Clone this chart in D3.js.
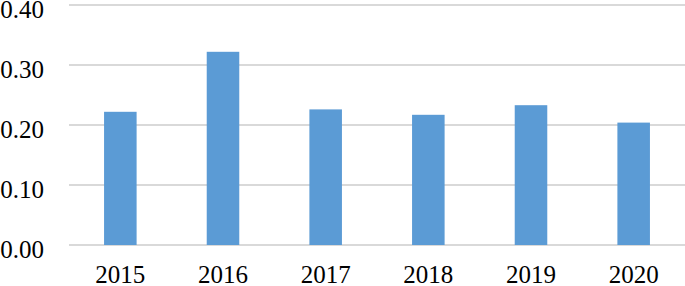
<!DOCTYPE html>
<html>
<head>
<meta charset="utf-8">
<script src="https://cdn.jsdelivr.net/npm/d3@7"></script>
<style>
  html, body { margin: 0; padding: 0; background: #fff; }
  svg { display: block; }
</style>
</head>
<body>
<div id="chart"></div>
<script>
// Values
const years = ['2015', '2016', '2017', '2018', '2019', '2020'];
const values = [0.222, 0.322, 0.226, 0.217, 0.233, 0.204];
const yTicks = [0, 0.1, 0.2, 0.3, 0.4];

const width = 685;
const height = 286;
const margin = { top: 5, right: 0, bottom: 41, left: 69 };
const innerW = width - margin.left - margin.right;
const innerH = height - margin.top - margin.bottom;

const svg = d3.select('#chart')
    .append('svg')
    .attr('width', width)
    .attr('height', height);

const g = svg.append('g').attr('transform', `translate(${margin.left},${margin.top})`);

const x = d3.scaleBand()
    .domain(years)
    .range([0, innerW])
    .paddingInner(0.683)
    .paddingOuter(0.683 / 2);

const y = d3.scaleLinear()
    .domain([0, 0.4])
    .range([innerH, 0]);

// Gridlines
g.append('g')
    .selectAll('line')
    .data(yTicks)
    .enter()
    .append('line')
    .attr('x1', 0)
    .attr('x2', innerW)
    .attr('y1', d => y(d))
    .attr('y2', d => y(d))
    .attr('stroke', '#d9d9d9')
    .attr('stroke-width', 2);

// Bars
g.selectAll('rect')
    .data(values)
    .enter()
    .append('rect')
    .attr('x', (d, i) => x(years[i]))
    .attr('y', d => y(d))
    .attr('width', x.bandwidth())
    .attr('height', d => innerH - y(d))
    .attr('fill', '#5b9bd5');

const font = '"Liberation Serif", "Times New Roman", serif';

// Y axis labels
const yAxis = g.append('g')
    .call(d3.axisLeft(y).tickValues(yTicks).tickFormat(d3.format('.2f')).tickSize(0).tickPadding(25));
yAxis.select('.domain').remove();
yAxis.selectAll('text')
    .attr('fill', '#000')
    .attr('dy', '0.48em')
    .style('font-family', font)
    .style('font-size', '25px');

// X axis labels
const xAxis = g.append('g')
    .attr('transform', `translate(0,${innerH})`)
    .call(d3.axisBottom(x).tickSize(0).tickPadding(38));
xAxis.select('.domain').remove();
xAxis.selectAll('text')
    .attr('fill', '#000')
    .attr('dy', '0')
    .style('font-family', font)
    .style('font-size', '25px');
</script>
</body>
</html>
